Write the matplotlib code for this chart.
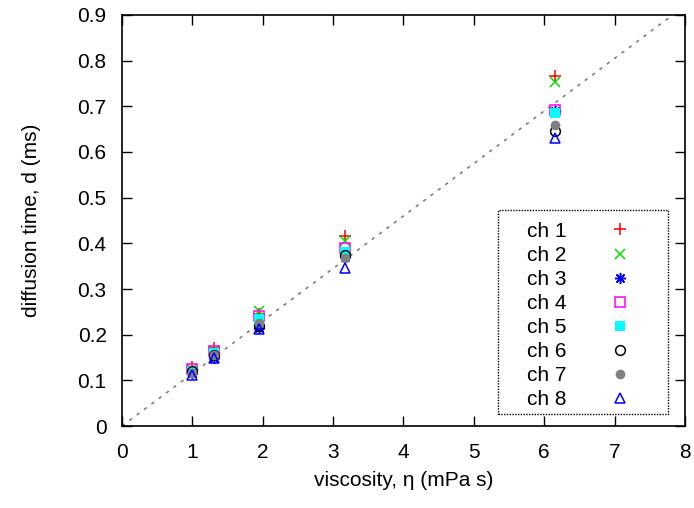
import matplotlib
matplotlib.use("Agg")
import numpy as np
from matplotlib import pyplot as plt
from matplotlib.patches import Rectangle

# viscosity of the samples (mPa s)
viscosity = [1.0, 1.31, 1.94, 3.17, 6.15]

# diffusion time per channel (ms)
ch1 = [0.130, 0.170, 0.245, 0.415, 0.766]
ch2 = [0.125, 0.166, 0.251, 0.405, 0.753]
ch3 = [0.115, 0.150, 0.215, 0.370, 0.690]
ch4 = [0.125, 0.165, 0.240, 0.390, 0.692]
ch5 = [0.120, 0.160, 0.235, 0.380, 0.685]
ch6 = [0.120, 0.155, 0.220, 0.375, 0.645]
ch7 = [0.116, 0.155, 0.225, 0.368, 0.660]
ch8 = [0.112, 0.150, 0.212, 0.346, 0.630]
channels = [ch1, ch2, ch3, ch4, ch5, ch6, ch7, ch8]
labels = ["ch 1", "ch 2", "ch 3", "ch 4", "ch 5", "ch 6", "ch 7", "ch 8"]

# reference line d = k * eta
slope = 0.115
line_x = [0.0, 8.0]

x_ticks = [0, 1, 2, 3, 4, 5, 6, 7, 8]
y_ticks = [0, 0.1, 0.2, 0.3, 0.4, 0.5, 0.6, 0.7, 0.8, 0.9]
y_tick_labels = ["0", "0.1", "0.2", "0.3", "0.4", "0.5", "0.6", "0.7", "0.8", "0.9"]

styles = [
    dict(marker="+", color="#ff0000", mfc="none", ms=8, mew=1.1),
    dict(marker="x", color="#00dd00", mfc="none", ms=7, mew=1.1),
    dict(marker=(8, 2, 0), color="#0000ff", mfc="none", ms=8, mew=1.1),
    dict(marker="s", color="#ff00ff", mfc="none", ms=7, mew=1.1),
    dict(marker="s", color="#00ffff", mfc="#00ffff", ms=7, mew=0),
    dict(marker="o", color="#000000", mfc="none", ms=7, mew=1.1),
    dict(marker="o", color="#808080", mfc="#808080", ms=7, mew=0),
    dict(marker="^", color="#0000ff", mfc="none", ms=7, mew=1.1),
]

plt.rcParams["font.family"] = ["Liberation Sans", "DejaVu Sans"]
plt.rcParams["font.size"] = 15

fig = plt.figure(figsize=(6.94, 5.08), dpi=100)
ax = fig.add_axes([0.1758, 0.1614, 0.8112, 0.8091])

ax.plot(line_x, [slope * v for v in line_x], color="#808080",
        ls=(0, (2, 3.5)), lw=1.2, zorder=1)

for values, label, style in zip(channels, labels, styles):
    ax.plot(viscosity, values, ls="none", label=label, zorder=3, **style)

ax.set_xlim(0, 8)
ax.set_ylim(0, 0.9)
ax.set_xticks(x_ticks)
ax.set_yticks(y_ticks)
ax.set_yticklabels(y_tick_labels)
ax.tick_params(direction="in", length=7, width=1, top=True, right=True,
               labelsize=15, colors="black")
ax.tick_params(axis="x", pad=12)
ax.tick_params(axis="y", pad=11)
for spine in ax.spines.values():
    spine.set_linewidth(1.2)

ax.set_xlabel("viscosity, η (mPa s)", fontsize=15, labelpad=7)
ax.set_ylabel("diffusion time, d (ms)", fontsize=15, labelpad=26)

# dotted key box, drawn separately so the padding can match
ax.add_patch(Rectangle((0.668, 0.029), 0.302, 0.497, transform=ax.transAxes,
                       facecolor="white", edgecolor="black", lw=1.0,
                       ls=(0, (1, 1)), zorder=4))

leg = ax.legend(loc="upper left", bbox_to_anchor=(0.719, 0.497),
                markerfirst=False, fontsize=15, frameon=False,
                labelspacing=0.245, handlelength=1.0, handletextpad=2.1,
                borderpad=0, borderaxespad=0, numpoints=1)
leg.set_zorder(5)

fig.savefig("out.png", dpi=100)
